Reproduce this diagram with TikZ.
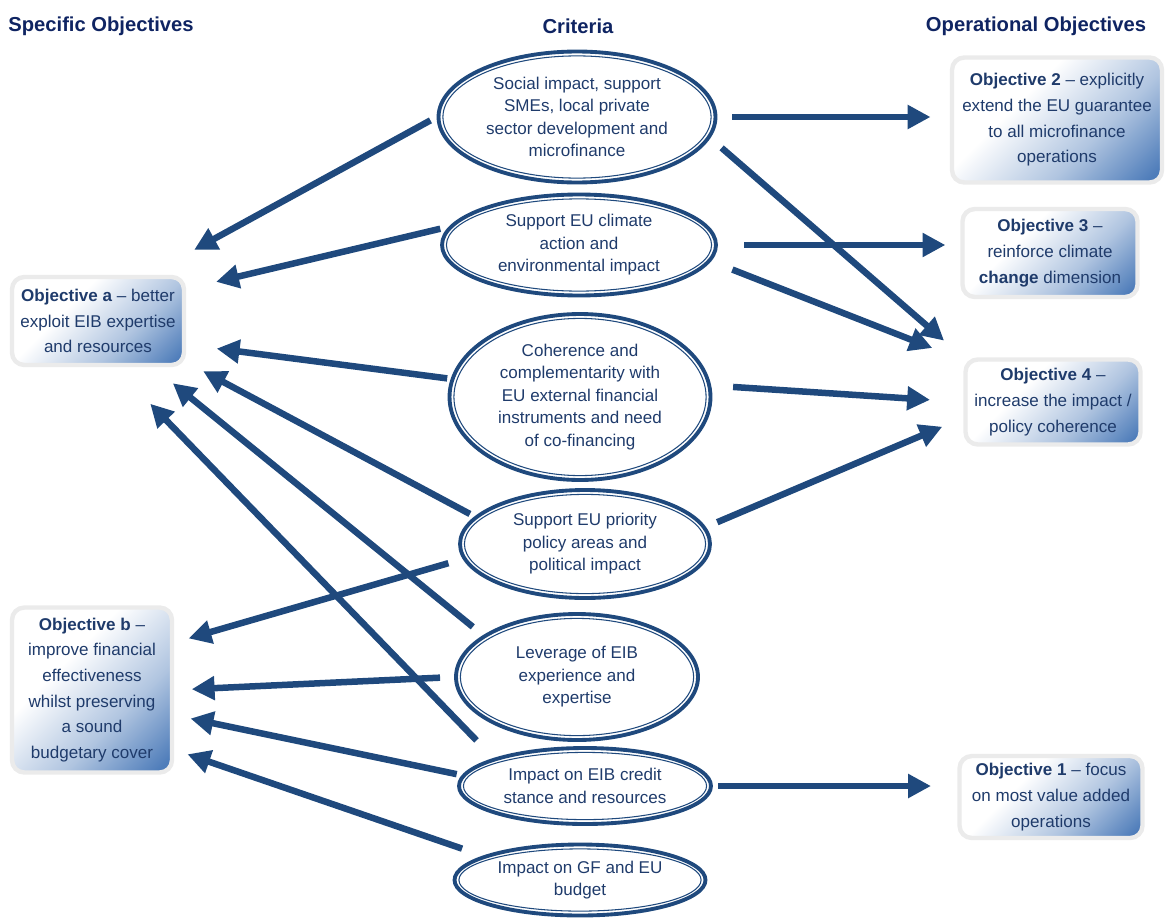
\documentclass[tikz,border=0pt]{standalone}
\usepackage{fontspec}
\setmainfont{Liberation Sans}
\usetikzlibrary{shapes.geometric, arrows.meta, calc}

\definecolor{arrowblue}{HTML}{1F497D}
\definecolor{textblue}{HTML}{1F3B6B}
\definecolor{headblue}{HTML}{0F2462}
\definecolor{objblue}{HTML}{4F7DBA}
\definecolor{rimgray}{HTML}{EBEBEB}

\pgfdeclarehorizontalshading{objfade}{100bp}{color(0bp)=(white); color(38bp)=(white);
  color(62bp)=(objblue!45); color(82bp)=(objblue); color(100bp)=(objblue)}

\begin{document}
\begin{tikzpicture}[x=0.02cm, y=-0.02cm, >={Triangle[length=13pt, width=13pt]},
  head/.style={font=\bfseries\fontsize{11.5}{13}\selectfont, text=headblue},
  crit/.style={
  % The shape:
  ellipse, inner sep=0pt,
  % The border: thick outer line, thin inner line
  draw=arrowblue, line width=2.2pt,
  path picture={\draw [arrowblue, line width=0.6pt]
    let \p1=(path picture bounding box.north east),
        \p2=(path picture bounding box.center) in
    (\p2) ellipse [x radius=\x1-\x2-2.5pt, y radius=\y1-\y2-2.5pt];},
      text=textblue, align=center,
      font=\fontsize{9.7}{12.8}\selectfont},
  obj/.style={
  % The shape:
  rectangle, rounded corners=7pt,
  % The border and the fill
  draw=rimgray, line width=2.5pt,
  shade, shading=objfade, shading angle=-45,
      text=textblue, align=center,
      font=\fontsize{9.7}{14.6}\selectfont},
  link/.style={arrowblue, line width=3.7pt, ->}]

  \useasboundingbox (0,0) rectangle (1165,919);

  % column titles
  \node [head] (spechead) at (101,26) {Specific Objectives};
  \node [head] (crithead) at (578,26) {Criteria};
  \node [head] (ophead) at (1036,26) {Operational Objectives};

  % criteria
  \node [crit, minimum width=5.54cm, minimum height=2.62cm] (crit1) at (577,117)
    {Social impact, support\\ SMEs, local private\\ sector development and\\ microfinance};
  \node [crit, minimum width=5.48cm, minimum height=2.02cm] (crit2) at (579,245)
    {Support EU climate\\ action and\\ environmental impact};
  \node [crit, minimum width=5.22cm, minimum height=3.32cm] (crit3) at (580,397)
    {Coherence and\\ complementarity with\\ EU external financial\\ instruments and need\\ of co-financing};
  \node [crit, minimum width=5.0cm, minimum height=2.16cm] (crit4) at (585,544)
    {Support EU priority\\ policy areas and\\ political impact};
  \node [crit, minimum width=4.84cm, minimum height=2.52cm] (crit5) at (577,677)
    {Leverage of EIB\\ experience and\\ expertise};
  \node [crit, minimum width=5.04cm, minimum height=1.52cm] (crit6) at (585,786)
    {Impact on EIB credit\\ stance and resources};
  \node [crit, minimum width=5.02cm, minimum height=1.42cm] (crit7) at (580,880)
    {Impact on GF and EU\\ budget};

  % operational objectives
  \node [obj, minimum width=4.2cm, minimum height=2.5cm] (obj2) at (1057,120)
    {\textbf{Objective 2} -- explicitly\\ extend the EU guarantee\\ to all microfinance\\ operations};
  \node [obj, minimum width=3.5cm, minimum height=1.76cm] (obj3) at (1050,253)
    {\textbf{Objective 3} --\\ reinforce climate\\ \textbf{change} dimension};
  \node [obj, minimum width=3.5cm, minimum height=1.7cm] (obj4) at (1053,402)
    {\textbf{Objective 4} --\\ increase the impact /\\ policy coherence};
  \node [obj, minimum width=3.66cm, minimum height=1.64cm] (obj1) at (1051,797)
    {\textbf{Objective 1} -- focus\\ on most value added\\ operations};

  % specific objectives
  \node [obj, minimum width=3.44cm, minimum height=1.76cm] (obja) at (98,321)
    {\textbf{Objective a} -- better\\ exploit EIB expertise\\ and resources};
  \node [obj, minimum width=3.2cm, minimum height=3.3cm] (objb) at (92,690)
    {\textbf{Objective b} --\\ improve financial\\ effectiveness\\ whilst preserving\\ a sound\\ budgetary cover};

  % criteria -> objectives
  \draw [link, shorten <=4pt] (crit1.west) -- ([shift={(8,-25)}]obja.north east);
  \draw [link, shorten <=8.5pt, shorten >=11pt] (crit1.east) -- (crit1.east -| obj2.west);
  \draw [link, shorten <=8.5pt, shorten >=14.5pt] (crit1.-9) -- (obj4.north west);
  \draw [link, shorten <=5pt, shorten >=17.5pt] (crit2.172) -- (obja.20);
  \draw [link, shorten <=15pt, shorten >=8.5pt] (crit2.east) -- (crit2.east -| obj3.west);
  \draw [link, shorten <=13pt, shorten >=19pt] (crit2.-7) -- (obj4.155);
  \draw [link, shorten <=2pt, shorten >=17.5pt] (crit3.172) -- (obja.-15);
  \draw [link, shorten <=12.5pt, shorten >=19pt] (crit3.5) -- (obj4.west);
  \draw [link, shorten <=7pt, shorten >=13pt] (crit4.8) -- (obj4.190);
  \draw [link, shorten <=3pt, shorten >=11pt] (crit4.166) -- (obja.-25);
  \draw [link, shorten <=8.5pt, shorten >=8.5pt] (crit4.187) -- (objb.30);
  \draw [link, shorten <=7.5pt, shorten >=14.5pt] (crit5.156) -- (obja.-40);
  \draw [link, shorten <=8pt, shorten >=10pt] (crit5.west) -- (objb.east);
  \draw [link, shorten <=14pt, shorten >=29pt] (crit6.163) -- (obja.-70);
  \draw [link, shorten <=3pt, shorten >=9.5pt] (crit6.175) -- (objb.-17);
  \draw [link, shorten <=3pt, shorten >=15pt] (crit6.east) -- (crit6.east -| obj1.west);
  \draw [link, shorten <=12.5pt, shorten >=8pt] (crit7.166) -- (objb.-36);

\end{tikzpicture}
\end{document}
